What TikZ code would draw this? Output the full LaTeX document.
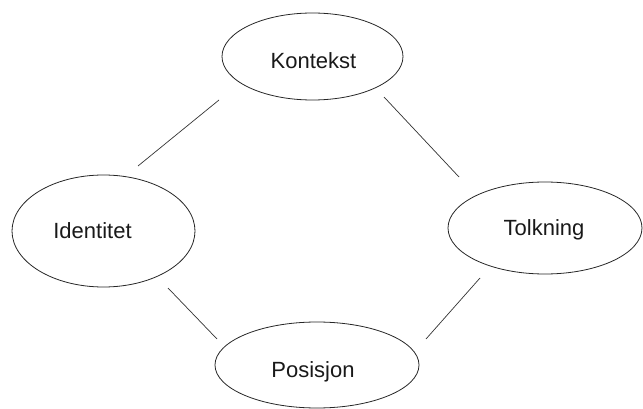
\documentclass[tikz,border=0pt]{standalone}
\usepackage{fontspec}
\setmainfont{Liberation Sans}
\usetikzlibrary{shapes.geometric,calc}
\begin{document}
\begin{tikzpicture}[x=1pt,y=-1pt,
  oval/.style={draw=black!85,line width=0.8pt,ellipse,inner sep=0pt},
  txt/.style={font=\fontsize{22}{26}\selectfont,text=black!90,inner sep=0pt,anchor=base},
  conn/.style={draw=black!80,line width=0.7pt}]
\useasboundingbox (0,0) rectangle (643,409);
\node[oval,minimum width=181pt,minimum height=87pt] (k) at (312.5,56.5) {};
\node[oval,minimum width=183pt,minimum height=112pt] (i) at (103.5,231) {};
\node[oval,minimum width=194pt,minimum height=92pt] (t) at (545,228) {};
\node[oval,minimum width=204pt,minimum height=86pt] (p) at (317,365) {};
\node[txt] (kt) at (313.5,69) {Kontekst};
\node[txt] (it) at (92.5,238) {Identitet};
\node[txt] (tt) at (544,235) {Tolkning};
\node[txt] (pt) at (313,377) {Posisjon};
\draw[conn] ($(k)+(-93.5,43.5)$) -- ($(i)+(34.5,-65)$);
\draw[conn] ($(k)+(71.5,40.5)$) -- ($(t)+(-86,-51)$);
\draw[conn] ($(i)+(64.5,57)$) -- ($(p)+(-100,-26)$);
\draw[conn] ($(t)+(-65,50)$) -- ($(p)+(109,-26)$);
\end{tikzpicture}
\end{document}
